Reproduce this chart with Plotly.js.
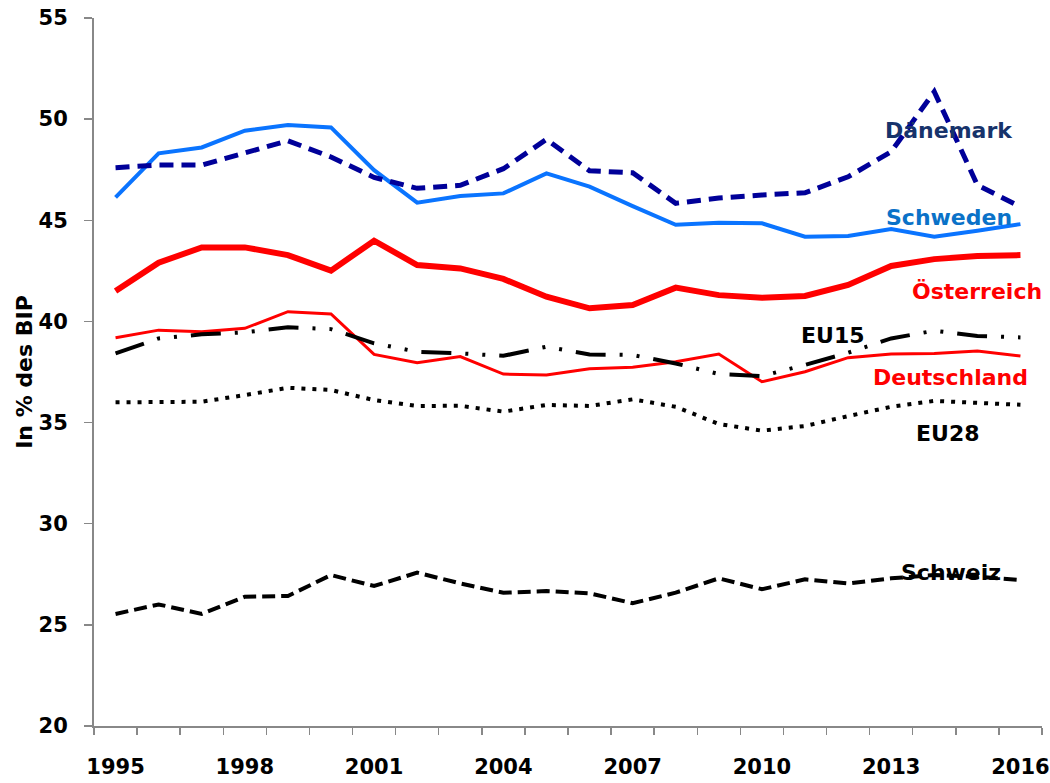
<!DOCTYPE html>
<html>
<head>
<meta charset="utf-8">
<script src="https://cdn.plot.ly/plotly-3.0.1.min.js"></script>
<style>html,body{margin:0;padding:0;background:#fff;} #chart{width:1050px;height:783px;}</style>
</head>
<body>
<div id="chart"></div>
<script>
const years = [1995,1996,1997,1998,1999,2000,2001,2002,2003,2004,2005,2006,2007,2008,2009,2010,2011,2012,2013,2014,2015,2016];
const daenemark   = [47.60,47.73,47.73,48.31,48.93,48.13,47.12,46.58,46.73,47.55,49.00,47.45,47.35,45.84,46.10,46.25,46.36,47.15,48.39,51.36,46.74,45.67];
const schweden    = [46.13,48.31,48.60,49.43,49.71,49.59,47.48,45.87,46.20,46.33,47.32,46.66,45.70,44.78,44.88,44.85,44.19,44.22,44.57,44.19,44.48,44.81];
const oesterreich = [41.50,42.90,43.66,43.66,43.28,42.51,43.99,42.79,42.62,42.10,41.22,40.65,40.81,41.67,41.30,41.17,41.26,41.80,42.74,43.08,43.23,43.28];
const deutschland = [39.19,39.57,39.49,39.66,40.48,40.37,38.37,37.96,38.26,37.40,37.35,37.66,37.73,38.01,38.39,37.02,37.51,38.21,38.39,38.42,38.54,38.29];
const eu15        = [38.42,39.16,39.36,39.46,39.71,39.62,38.92,38.50,38.42,38.30,38.75,38.37,38.34,37.92,37.40,37.30,37.85,38.45,39.16,39.54,39.28,39.21];
const eu28        = [36.00,36.00,36.03,36.36,36.72,36.61,36.11,35.82,35.83,35.54,35.87,35.82,36.15,35.78,34.93,34.60,34.83,35.32,35.78,36.07,35.98,35.88];
const schweiz     = [25.54,26.01,25.54,26.39,26.43,27.46,26.92,27.58,27.05,26.59,26.67,26.56,26.07,26.59,27.30,26.76,27.25,27.05,27.30,27.46,27.38,27.22];
const xTickLabels = ['1995','1998','2001','2004','2007','2010','2013','2016'];
const xTickVals = [1995,1998,2001,2004,2007,2010,2013,2016];
const yTickVals = [20,25,30,35,40,45,50,55];

const FONT = 'DejaVu Sans, Verdana, sans-serif';
const halfYears = years.map(y => y - 0.5).concat([years[years.length-1] + 0.5]);

const traces = [
  {name:'Österreich', x:years, y:oesterreich, mode:'lines', line:{color:'#ff0000', width:6}},
  {name:'Deutschland', x:years, y:deutschland, mode:'lines', line:{color:'#ff0000', width:3}},
  {name:'EU15', x:years, y:eu15, mode:'lines', line:{color:'#000000', width:4, dash:'30px,14px,3px,14px,3px,14px'}},
  {name:'EU28', x:years, y:eu28, mode:'lines', line:{color:'#000000', width:4, dash:'4px,7px'}},
  {name:'Schweiz', x:years, y:schweiz, mode:'lines', line:{color:'#000000', width:4, dash:'13px,6px'}},
  {name:'Schweden', x:years, y:schweden, mode:'lines', line:{color:'#0a74ff', width:4}},
  {name:'Dänemark', x:years, y:daenemark, mode:'lines', line:{color:'#000099', width:5, dash:'14px,8px'}}
];

const ann = (text, x, y, color) => ({text:'<b>'+text+'</b>', x:x, y:y, xref:'x', yref:'y', showarrow:false,
  font:{family:FONT, size:22, color:color}, xanchor:'center', yanchor:'middle'});

const layout = {
  width:1050, height:783,
  margin:{l:94, r:8, t:18, b:57},
  paper_bgcolor:'#ffffff', plot_bgcolor:'#ffffff',
  showlegend:false,
  font:{family:FONT, color:'#000'},
  xaxis:{
    range:[1994.5, 2016.5], showgrid:false, zeroline:false,
    showline:true, linecolor:'#888888', linewidth:2,
    tickmode:'array', tickvals:xTickVals, ticktext:xTickLabels, ticks:'',
    ticklabelstandoff:21,
    tickfont:{family:FONT, size:21, color:'#000', weight:'bold'},
    minor:{tickmode:'array', tickvals:halfYears, ticks:'outside', ticklen:7, tickcolor:'#888888', tickwidth:1.5, showgrid:false}
  },
  yaxis:{
    range:[20,55], showgrid:false, zeroline:false,
    showline:true, linecolor:'#888888', linewidth:2,
    tickmode:'array', tickvals:yTickVals, ticks:'outside', ticklen:8, tickcolor:'#888888', tickwidth:1.5,
    ticklabelstandoff:12,
    tickfont:{family:FONT, size:21, color:'#000', weight:'bold'},
    title:{text:'<b>In % des BIP</b>', font:{family:FONT, size:22, color:'#000'}, standoff:0}
  },
  annotations:[
    ann('Dänemark', 2014.34, 49.43, '#17336b'),
    ann('Schweden', 2014.34, 45.13, '#0a72c8'),
    ann('Österreich', 2014.99, 41.48, '#ff0000'),
    ann('EU15', 2011.65, 39.30, '#000000'),
    ann('Deutschland', 2014.38, 37.22, '#ff0000'),
    ann('EU28', 2014.31, 34.45, '#000000'),
    ann('Schweiz', 2014.38, 27.58, '#000000')
  ]
};

Plotly.newPlot('chart', traces, layout, {displayModeBar:false, staticPlot:true});
</script>
</body>
</html>
